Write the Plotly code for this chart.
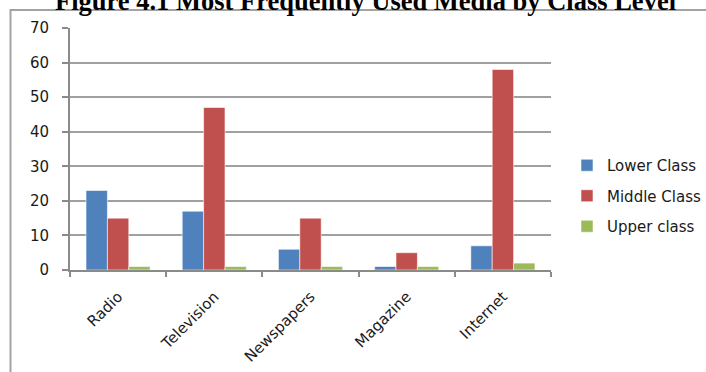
import plotly.graph_objects as go

# Media categories and the share reported by each class level
media = ["Radio", "Television", "Newspapers", "Magazine", "Internet"]
lower_class = [23, 17, 6, 1, 7]
middle_class = [15, 47, 15, 5, 58]
upper_class = [1, 1, 1, 1, 2]

series_names = ["Lower Class", "Middle Class", "Upper class"]
series_values = [lower_class, middle_class, upper_class]
series_colors = ["#4F81BD", "#C0504D", "#9BBB59"]

title_text = "Figure 4.1 Most Frequently Used Media by Class Level"

W, H = 706, 372
M_L, M_R, M_T, M_B = 70, 155, 28, 102
plot_w = W - M_L - M_R
plot_h = H - M_T - M_B


def px_x(px):
    """Pixel column -> paper x."""
    return (px - M_L) / plot_w


def px_y(py):
    """Pixel row -> paper y."""
    return (H - M_B - py) / plot_h


fig = go.Figure()
for name, vals, col in zip(series_names, series_values, series_colors):
    fig.add_trace(go.Bar(
        x=media, y=vals, name=name, legendgroup=name,
        marker=dict(color=col, line=dict(color="rgba(255,255,255,0.55)", width=1)),
    ))

axis_gray = "#8a8a8a"
font_family = "DejaVu Sans"

fig.update_layout(
    width=W, height=H,
    margin=dict(l=M_L, r=M_R, t=M_T, b=M_B, autoexpand=False),
    paper_bgcolor="white", plot_bgcolor="white",
    barmode="group", bargap=1/3, bargroupgap=0,
    font=dict(family=font_family, size=15, color="#1a1a1a"),
    showlegend=True,
    legend=dict(
        x=px_x(567), xanchor="left",
        y=px_y(149), yanchor="top",
        traceorder="grouped", tracegroupgap=8,
        font=dict(family=font_family, size=15, color="#1a1a1a"),
        bgcolor="rgba(0,0,0,0)", borderwidth=0,
        itemclick=False,
    ),
    xaxis=dict(
        type="category",
        showline=True, linecolor=axis_gray, linewidth=2,
        ticks="outside", ticklen=5, tickcolor=axis_gray, tickwidth=1.5,
        tickson="boundaries",
        tickangle=-45, ticklabelstandoff=10,
        showgrid=False,
    ),
    yaxis=dict(
        range=[0, 70], dtick=10, tick0=0,
        showline=True, linecolor=axis_gray, linewidth=2,
        ticks="outside", ticklen=6, tickcolor=axis_gray, tickwidth=1.5,
        ticklabelstandoff=10,
        showgrid=True, gridcolor="#a0a0a0", gridwidth=1.5,
        zeroline=False,
    ),
    shapes=[dict(
        type="rect", xref="paper", yref="paper", layer="below",
        x0=px_x(10.5), x1=px_x(730), y0=px_y(420), y1=px_y(10),
        line=dict(color="#a3a3a3", width=2), fillcolor="rgba(0,0,0,0)",
    )],
    annotations=[dict(
        text=f"<b>{title_text}</b>", showarrow=False,
        xref="paper", yref="paper",
        x=px_x(365.5), xanchor="center",
        y=px_y(0.8), yanchor="middle",
        font=dict(family="Liberation Serif", size=26.5, color="black"),
    )],
)

fig.write_html("out.html")
